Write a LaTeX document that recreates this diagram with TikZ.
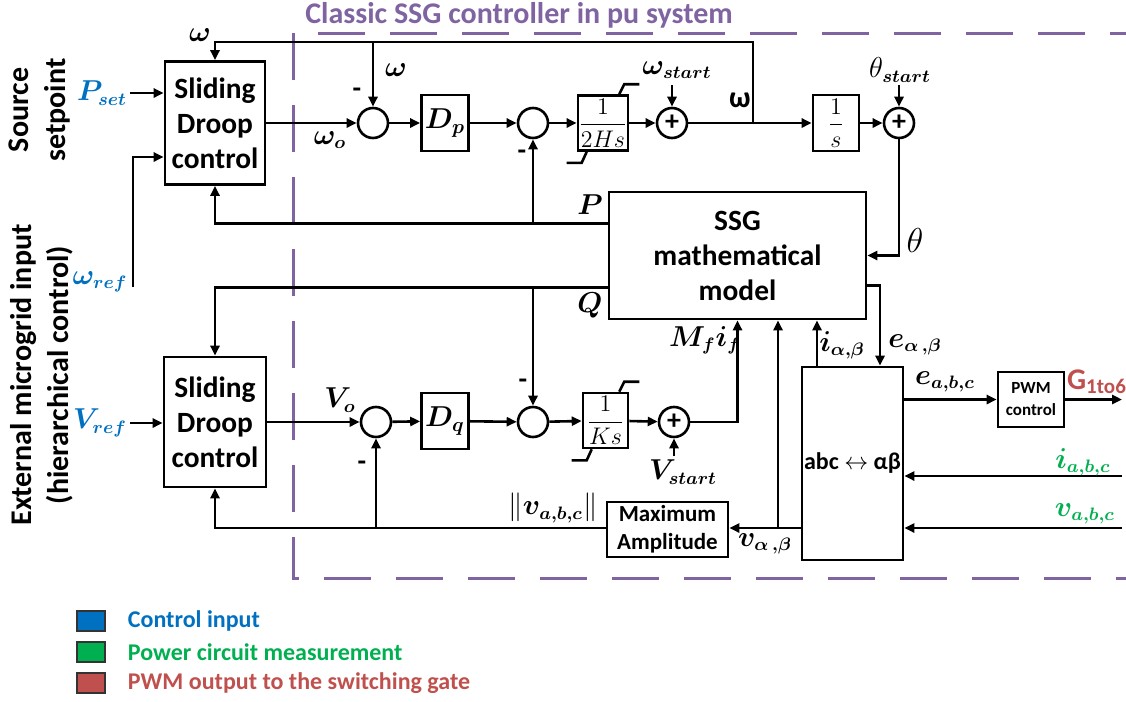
\documentclass[tikz,border=0pt]{standalone}
\usepackage{amsmath}
\usepackage{fontspec}
\setmainfont{Carlito}
\usepackage{tikz}
\usetikzlibrary{arrows.meta, positioning, calc}
\definecolor{ssgpurple}{RGB}{128,100,162}
\definecolor{ctrlblue}{RGB}{0,112,192}
\definecolor{measgreen}{RGB}{0,176,80}
\definecolor{pwmred}{RGB}{192,80,77}

\begin{document}
\begin{tikzpicture}[
    x=0.5pt, y=-0.5pt,
    >={Triangle[length=5pt,width=4.5pt]},
    line width=1.3pt,
    blk/.style={draw, fill=white, inner sep=0pt, align=center, font=\fontsize{14.7}{17.5}\selectfont\bfseries},
    sumnode/.style={draw, circle, minimum size=15pt, inner sep=0pt, font=\fontsize{14}{15}\selectfont\bfseries},
    lbl/.style={font=\fontsize{13.5}{15}\selectfont, inner sep=1pt},
    sidelbl/.style={font=\fontsize{15}{18.5}\selectfont\bfseries, rotate=90, align=center},
    keytxt/.style={anchor=west, font=\fontsize{12}{14}\selectfont\bfseries},
]
    \useasboundingbox (0,0) rectangle (1126,702);

    % controller frame
    \draw[ssgpurple, line width=1.5pt, dash pattern=on 23.5pt off 12.5pt] (293,33) -- (293,578) -- (1126,578);
    \draw[ssgpurple, line width=1.5pt, dash pattern=on 23.5pt off 12.5pt] (318,33) -- (1126,33);
    \node[text=ssgpurple, font=\fontsize{15}{17}\selectfont\bfseries] (ttl) at (519,15) {Classic SSG controller in pu system};

    % side captions
    \node[sidelbl] (srclbl) at (40,110) {Source\\setpoint};
    \node[sidelbl] (extlbl) at (42,375) {External microgrid input\\(hierarchical control)};

    % blocks
    \node[blk, minimum width=50pt, minimum height=61.5pt] (sd1) at (215,123) {Sliding\\Droop\\control};
    \node[blk, minimum width=51pt, minimum height=65pt] (sd2) at (215,422) {Sliding\\Droop\\control};
    \node[blk, minimum width=23.5pt, minimum height=28pt] (dp) at (445,123) {$\boldsymbol{D_p}$};
    \node[blk, minimum width=23.5pt, minimum height=28pt] (dq) at (445,421) {$\boldsymbol{D_q}$};
    \node[blk, minimum width=25pt, minimum height=27.5pt, font=\fontsize{11.5}{13}\selectfont] (hblk) at (603,123) {$\dfrac{1}{2Hs}$};
    \node[blk, minimum width=22.5pt, minimum height=27.5pt, font=\fontsize{11.5}{13}\selectfont] (kblk) at (605.5,420.5) {$\dfrac{1}{Ks}$};
    \node[blk, minimum width=23pt, minimum height=28pt, font=\fontsize{12.5}{14}\selectfont] (intblk) at (836,123) {$\dfrac{1}{s}$};
    \node[blk, minimum width=128.5pt, minimum height=63.5pt] (ssg) at (737.5,255.5) {SSG\\mathematical\\model};
    \node[blk, minimum width=50.5pt, minimum height=96.5pt, font=\fontsize{12}{14}\selectfont\bfseries] (abc) at (852.5,463.5) {abc {\large$\leftrightarrow$} αβ};
    \node[blk, minimum width=60.5pt, minimum height=27.5pt, font=\fontsize{11.5}{14}\selectfont\bfseries] (maxamp) at (667.5,529.5) {Maximum\\Amplitude};
    \node[blk, minimum width=33pt, minimum height=27.5pt, font=\fontsize{8.5}{11}\selectfont\bfseries] (pwm) at (1031,399.5) {PWM\\control};

    % limiter marks
    \foreach \b in {hblk,kblk} {
        \draw ([xshift=-5pt]\b.north east) -- ++(5,-10) -- ++(15,0);
        \draw ([xshift=5pt]\b.south west) -- ++(-5,11) -- ++(-15,0);
    }

    % summing junctions
    \node[sumnode] (s1) at (373,123) {};
    \node[sumnode] (s2) at (533,123) {};
    \node[sumnode] (s3) at (672,123) {+};
    \node[sumnode] (s4) at (899,123) {+};
    \node[sumnode] (s5) at (376,422) {};
    \node[sumnode] (s6) at (533,422) {};
    \node[sumnode] (s7) at (674,422) {+};

    % inputs
    \node[lbl, text=ctrlblue] (pset) at (102,93) {$\boldsymbol{P_{set}}$};
    \node[lbl, text=ctrlblue] (wref) at (100,282) {$\boldsymbol{\omega_{ref}}$};
    \node[lbl, text=ctrlblue] (vref) at (100,423) {$\boldsymbol{V_{ref}}$};
    \coordinate (wrefend) at (133,287);
    \draw[->] (pset.east) -- (pset.east -| sd1.west);
    \draw[->] (wrefend) |- (sd1.west |- 0,157);
    \draw[->] (vref.east) -- (vref.east -| sd2.west);

    % active power loop
    \coordinate (wtap) at (753,123);
    \coordinate (wst) at (672,85);
    \coordinate (thst) at (899,85);
    \draw[->] (sd1.east) -- (s1.west);
    \draw[->] (s1) -- (dp);
    \draw[->] (dp) -- (s2);
    \draw[->] (s2) -- (hblk);
    \draw[->] (hblk) -- (s3);
    \draw[->] (s3) -- (intblk);
    \draw[->] (intblk) -- (s4);
    \draw[->] (wst) -- (s3.north);
    \draw[->] (thst) -- (s4.north);
    \draw[->] (wtap) -- ++(0,-81) -| (sd1.north);
    \draw[->] (s1 |- 0,42) -- (s1.north);
    \draw[->] (s4.south) |- (ssg.east);
    \draw[->] ([yshift=16pt]ssg.west) -| (sd1.south);
    \draw[->] (s2 |- 0,223.5) -- (s2.south);

    % reactive power loop
    \draw[->] (sd2.east) -- (s5.west);
    \draw[->] (s5) -- (dq);
    \draw[->] (dq) -- (s6);
    \draw[->] (s6) -- (kblk);
    \draw[->] (kblk) -- (s7);
    \coordinate (vst) at (674,456);
    \draw[->] (vst) -- (s7.south);
    \draw[->] (s7.east) -| (ssg.south);
    \draw[->] ([yshift=-16pt]ssg.west) -| (sd2.north);
    \draw[->] (s6 |- 0,287.5) -- (s6.north);

    % transformations and measurements
    \coordinate (itap) at (817,367);
    \coordinate (vab) at (802,528);
    \coordinate (vtap) at (778,528);
    \draw[->] ([yshift=-15pt]ssg.east) -| ([xshift=13.75pt]abc.north);
    \draw[->] (itap) -- (itap |- ssg.south);
    \draw[->] (vab) -- (vab -| maxamp.east);
    \draw[->] (vtap) -- (vtap |- ssg.south);
    \draw[->] (maxamp.west |- vab) -| (sd2.south);
    \draw[->] (s5 |- vab) -- (s5.south);
    \draw[->] (abc.east |- pwm.west) -- (pwm.west);
    \coordinate (gout) at (1122,399.5);
    \coordinate (iin) at (1122,476);
    \coordinate (vin) at (1122,528);
    \draw[->] (pwm.east) -- (gout);
    \draw[->] (iin) -- (iin -| abc.east);
    \draw[->] (vin) -- (vin -| abc.east);

    % signal labels
    \node[lbl] (wlbl1) at (200,35) {$\boldsymbol{\omega}$};
    \node[lbl] (wlbl2) at (396,70) {$\boldsymbol{\omega}$};
    \node[lbl, font=\fontsize{15}{17}\selectfont\bfseries] (wlbl3) at (740,100) {ω};
    \node[lbl] (wolbl) at (330,140) {$\boldsymbol{\omega_o}$};
    \node[lbl] (wstlbl) at (677,70) {$\boldsymbol{\omega_{start}}$};
    \node[lbl] (thstlbl) at (900,70) {$\theta_{\boldsymbol{start}}$};
    \node[lbl, font=\fontsize{16}{18}\selectfont] (thlbl) at (915,240) {$\theta$};
    \node[lbl] (plbl) at (590,205) {$\boldsymbol{P}$};
    \node[lbl] (qlbl) at (590,305) {$\boldsymbol{Q}$};
    \node[lbl] (mflbl) at (705,340) {$\boldsymbol{M_f i_f}$};
    \node[lbl] (iablbl) at (842,345) {$\boldsymbol{i_{\alpha,\beta}}$};
    \node[lbl] (eablbl) at (915,345) {$\boldsymbol{e_{\alpha\,,\beta}}$};
    \node[lbl] (volbl) at (340,400) {$\boldsymbol{V_o}$};
    \node[lbl] (vstlbl) at (683,472) {$\boldsymbol{V_{start}}$};
    \node[lbl] (vnlbl) at (553,508) {$\|\boldsymbol{v_{a,b,c}}\|$};
    \node[lbl] (vablbl) at (765,544) {$\boldsymbol{v_{\alpha\,,\beta}}$};
    \node[lbl] (eabclbl) at (945,382) {$\boldsymbol{e_{a,b,c}}$};
    \node[lbl, text=pwmred, font=\fontsize{15}{17}\selectfont\bfseries] (glbl) at (1097,382) {G\textsubscript{1to6}};
    \node[lbl, text=measgreen] (iabclbl) at (1083,462) {$\boldsymbol{i_{a,b,c}}$};
    \node[lbl, text=measgreen] (vabclbl) at (1085,514) {$\boldsymbol{v_{a,b,c}}$};
    \node[sumnode, draw=none, minimum size=0pt] (m1) at (357,93) {-};
    \node[sumnode, draw=none, minimum size=0pt] (m2) at (522,155) {-};
    \node[sumnode, draw=none, minimum size=0pt] (m3) at (523,384) {-};
    \node[sumnode, draw=none, minimum size=0pt] (m4) at (362,466) {-};

    % legend
    \foreach \col/\txt [count=\i] in {ctrlblue/Control input, measgreen/Power circuit measurement, pwmred/PWM output to the switching gate} {
        \node[draw=black!80, line width=0.6pt, fill=\col, minimum width=14pt, minimum height=10pt, inner sep=0pt] (key\i) at (91,{590+31*\i}) {};
        \node[keytxt, text=\col] (keylbl\i) at (120,{590+31*\i}) {\txt};
    }
\end{tikzpicture}
\end{document}
